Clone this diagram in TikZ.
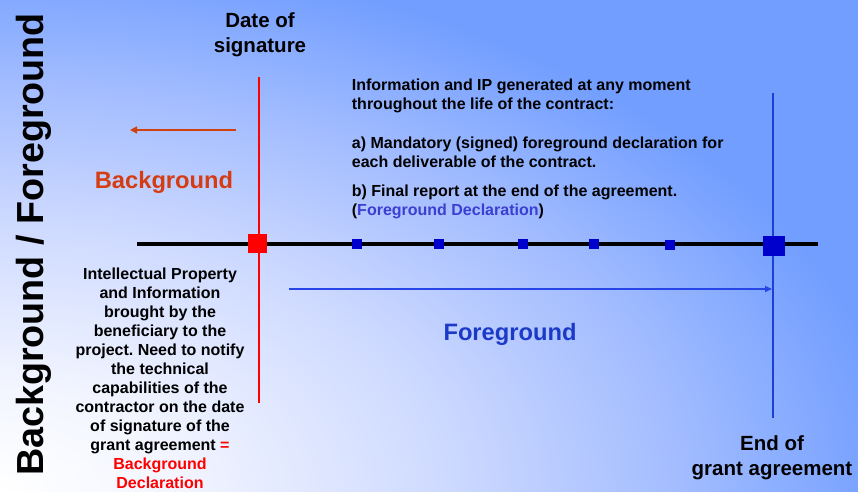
\documentclass[tikz,border=0pt]{standalone}
\usepackage{fontspec}
\setmainfont{Liberation Sans}
\usetikzlibrary{arrows.meta}
\frenchspacing
\definecolor{bgblue}{RGB}{114,158,255}
\definecolor{bgA}{RGB}{242,245,255}
\definecolor{bgB}{RGB}{205,217,255}
\definecolor{bgC}{RGB}{165,190,255}
\definecolor{arrowred}{RGB}{208,64,16}
\definecolor{bgtxtred}{RGB}{214,60,18}
\definecolor{sqblue}{RGB}{0,0,204}
\definecolor{lineblue}{RGB}{26,64,214}
\definecolor{arrowblue}{RGB}{40,70,232}
\definecolor{fgtxtblue}{RGB}{28,58,200}
\definecolor{declblue}{RGB}{60,62,210}
\pgfdeclareradialshading{bgglow}{\pgfpoint{0bp}{0bp}}{color(0bp)=(white); color(5bp)=(bgA); color(12.5bp)=(bgB); color(18.5bp)=(bgC); color(25bp)=(bgblue); color(50bp)=(bgblue)}
\tikzset{
  bigtxt/.style={font=\fontsize{20.5}{25}\selectfont\bfseries, align=center, inner sep=0pt},
  smalltxt/.style={font=\fontsize{16}{19}\selectfont\bfseries\frenchspacing, inner sep=0pt},
  keyword/.style={font=\fontsize{23.7}{28}\selectfont\bfseries, inner sep=0pt},
  smallsq/.style={fill=sqblue, inner sep=0pt, minimum size=10pt, draw=none},
  redarrow/.style={draw=arrowred, line width=1.5pt, -{Triangle[length=7pt,width=7pt]}},
  bluearrow/.style={draw=arrowblue, line width=1.5pt, -{Triangle[length=7pt,width=6pt]}},
}
\begin{document}
\begin{tikzpicture}[x=1pt,y=-1pt]
% background
\fill[bgblue] (0,0) rectangle (858,491);
\begin{scope}
  \clip (0,0) rectangle (858,491);
  \shade[shading=bgglow] (0,491) ellipse [x radius=900, y radius=540];
\end{scope}
\useasboundingbox (0,0) rectangle (858,491);

% title
\node[rotate=90, anchor=base, font=\fontsize{37.7}{40}\selectfont\bfseries, inner sep=0pt] (title) at (43,244.5) {Background / Foreground};

% timeline
\coordinate (ls) at (137,244);
\coordinate (le) at (818,244);
\draw[line width=4pt, black] (ls) -- (le);

% red vertical line (date of signature)
\coordinate (rtop) at (258.5,77);
\coordinate (rbot) at (258.5,403);
\draw[red, line width=2pt] (rtop) -- (rbot);

% blue vertical line (end of grant agreement)
\coordinate (btop) at (773,93);
\coordinate (bbot) at (773,418);
\draw[lineblue, line width=2pt] (btop) -- (bbot);

% squares
\node[fill=red, inner sep=0pt, minimum size=19pt] (sig) at (257.5,243) {};
\node[smallsq] (m1) at (357,244) {};
\node[smallsq] (m2) at (439,244) {};
\node[smallsq] (m3) at (523,244) {};
\node[smallsq] (m4) at (594,244) {};
\node[smallsq] (m5) at (670,245) {};
\node[fill=sqblue, inner sep=0pt, minimum width=22pt, minimum height=20pt] (end) at (774,246) {};

% arrows
\coordinate (ra1) at (236,130);
\coordinate (ra2) at (130,130);
\draw[redarrow] (ra1) -- (ra2);
\coordinate (ba1) at (289,289);
\coordinate (ba2) at (772,289);
\draw[bluearrow] (ba1) -- (ba2);

% texts
\node[bigtxt, anchor=north] (ds) at (260,12.4) {Date of\\signature};
\node[bigtxt, anchor=north] (eg) at (772,435.2) {End of\\grant agreement};
\node[keyword, text=bgtxtred, anchor=base] (bg) at (164,188) {Background};
\node[keyword, text=fgtxtblue, anchor=base] (fg) at (510,340) {Foreground};

\node[smalltxt, align=left, anchor=north west] (info) at (351.7,78.6)
  {Information and IP generated at any moment\\
   throughout the life of the contract:\\[20pt]
   a) Mandatory (signed) foreground declaration for\\
   each deliverable of the contract.\\[10pt]
   b) Final report at the end of the agreement.\\
   ({\color{declblue}Foreground Declaration})};

\node[smalltxt, align=center, anchor=north] (bgdesc) at (160,267.6)
  {Intellectual Property\\
   and Information\\
   brought by the\\
   beneficiary to the\\
   project. Need to notify\\
   the technical\\
   capabilities of the\\
   contractor on the date\\
   of signature of the\\
   grant agreement {\color{red}=}\\
   {\color{red}Background}\\
   {\color{red}Declaration}};
\end{tikzpicture}
\end{document}
